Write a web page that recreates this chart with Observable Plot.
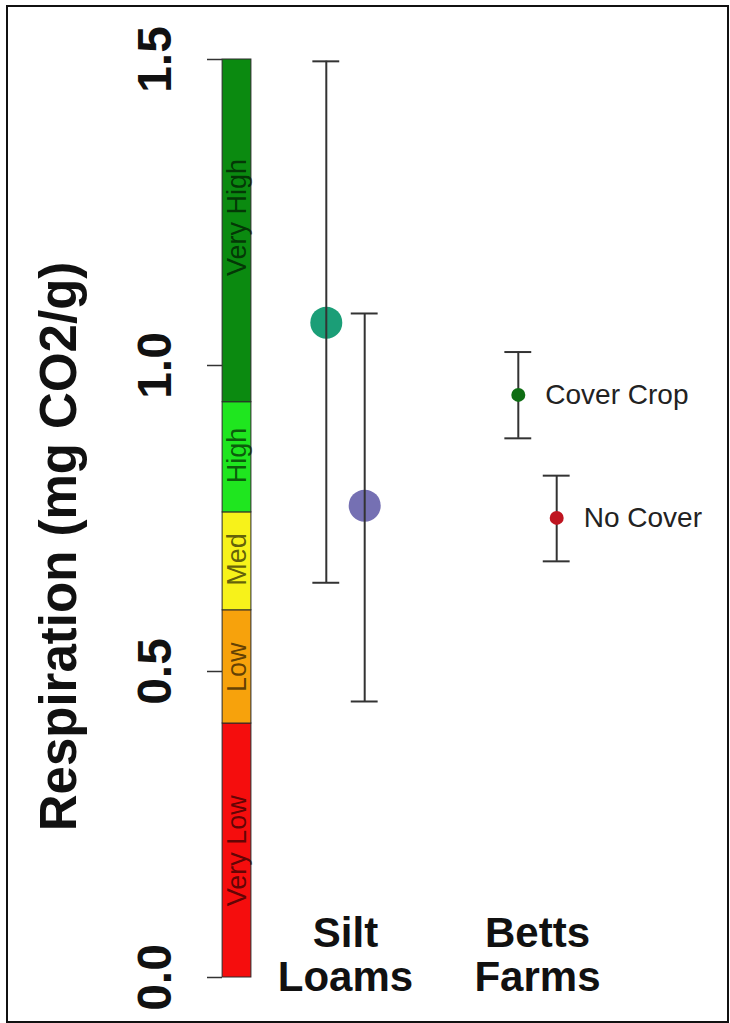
<!DOCTYPE html>
<html>
<head>
<meta charset="utf-8">
<script src="https://cdn.jsdelivr.net/npm/d3@7"></script>
<script src="https://cdn.jsdelivr.net/npm/@observablehq/plot@0.6"></script>
<style>
  html, body { margin: 0; padding: 0; background: #fff; }
  #wrap { position: relative; width: 730px; height: 1023px; overflow: hidden; }
  #border { position: absolute; left: 6px; top: 5px; width: 719px; height: 1014px; border: 2px solid #111; pointer-events: none; }
  svg { font-family: "Liberation Sans", Arial, Helvetica, sans-serif; }
</style>
</head>
<body>
<div id="wrap"><div id="border"></div></div>
<script>
// ---- data ----
const categories = ["Silt Loams", "Betts Farms"];
const treatments = ["Cover Crop", "No Cover"];
const means = [[1.07, 0.771], [0.952, 0.751]];
const lower = [[0.645, 0.451], [0.881, 0.680]];
const upper = [[1.497, 1.085], [1.022, 0.820]];

const bandLabels = ["Very Low", "Low", "Med", "High", "Very High"];
const bandBreaks = [0, 0.415, 0.6, 0.76, 0.94, 1.5];
const bandLabelAt = [0.207, 0.507, 0.683, 0.853, 1.242];
const yTicks = [0, 0.5, 1, 1.5];

// ---- styles ----
const bandColors = ["#f50d0d", "#f7a20c", "#f7f21a", "#1fe61f", "#0b8a10"];
const pointColors = {
  "Silt Loams": {"Cover Crop": "#1b9e77", "No Cover": "#7570b3"},
  "Betts Farms": {"Cover Crop": "#0f6e14", "No Cover": "#bf1520"}
};
const pointRadius = {"Silt Loams": 16, "Betts Farms": 7};
const offset = {"Cover Crop": -0.1, "No Cover": 0.1};
const capHalf = 0.07;
const barX1 = 0.36, barX2 = 0.51;

// ---- tables built from arrays ----
const bands = bandLabels.map((label, i) => ({
  label, lo: bandBreaks[i], hi: bandBreaks[i + 1], at: bandLabelAt[i], color: bandColors[i]
}));
const cats = categories.map((c, i) => ({cat: c, pos: i + 1, text: c.replace(" ", "\n")}));
const pts = [];
categories.forEach((c, i) => treatments.forEach((t, j) => pts.push({
  cat: c, trt: t, x: i + 1 + offset[t], mean: means[i][j], lo: lower[i][j], hi: upper[i][j],
  color: pointColors[c][t], r: pointRadius[c]
})));
const big = pts.filter(d => d.cat === "Silt Loams");
const small = pts.filter(d => d.cat === "Betts Farms");

const chart = Plot.plot({
  width: 730,
  height: 1023,
  marginLeft: 222,
  marginRight: 2,
  marginTop: 59,
  marginBottom: 6,
  style: {fontFamily: '"Liberation Sans", Arial, Helvetica, sans-serif', background: "white"},
  x: {domain: [0, 3], range: [153, 729], axis: null},
  y: {domain: [0, 1.5], range: [977, 59], axis: null},
  r: {type: "identity"},
  marks: [
    // rating bar
    Plot.rect(bands, {x1: () => barX1, x2: () => barX2, y1: "lo", y2: "hi", fill: "color", stroke: "#2a2a2a", strokeWidth: 1}),
    Plot.text(bands, {x: () => (barX1 + barX2) / 2, y: "at", text: "label", rotate: -90, fontSize: 27,
      fill: "black", fillOpacity: 0.62, textAnchor: "middle", lineAnchor: "middle"}),
    // y axis ticks and labels
    Plot.axisY(yTicks, {anchor: "left", tickSize: 15, tickFormat: () => "", label: null, stroke: "#333", strokeWidth: 1.5}),
    Plot.text(yTicks, {y: d => d, text: d => d.toFixed(1), frameAnchor: "left", dx: -67, rotate: -90,
      fontSize: 48, fontWeight: "bold", fill: "#111", textAnchor: "middle", lineAnchor: "middle"}),
    Plot.text(["Respiration (mg CO2/g)"], {frameAnchor: "left", dx: -163, dy: 8, rotate: -90,
      fontSize: 51, fontWeight: "bold", fill: "#111", textAnchor: "middle", lineAnchor: "middle"}),
    // big points (under the error bars)
    Plot.dot(big, {x: "x", y: "mean", r: "r", fill: "color", stroke: "none"}),
    // error bars
    Plot.ruleX(pts, {x: "x", y1: "lo", y2: "hi", stroke: "#333", strokeWidth: 2}),
    Plot.ruleY(pts, {y: "hi", x1: d => d.x - capHalf, x2: d => d.x + capHalf, stroke: "#333", strokeWidth: 2}),
    Plot.ruleY(pts, {y: "lo", x1: d => d.x - capHalf, x2: d => d.x + capHalf, stroke: "#333", strokeWidth: 2}),
    // small points
    Plot.dot(small, {x: "x", y: "mean", r: "r", fill: "color", stroke: "none"}),
    Plot.text(small, {x: "x", y: "mean", text: "trt", dx: 27, textAnchor: "start", lineAnchor: "middle",
      fontSize: 28, fill: "#222"}),
    // category labels
    Plot.text(cats, {x: "pos", y: () => 0, text: "text", dy: 13, lineAnchor: "bottom", lineHeight: 1.03,
      fontSize: 42, fontWeight: "bold", fill: "#111", textAnchor: "middle"})
  ]
});
chart.style.display = "block";
document.getElementById("wrap").prepend(chart);
</script>
</body>
</html>
